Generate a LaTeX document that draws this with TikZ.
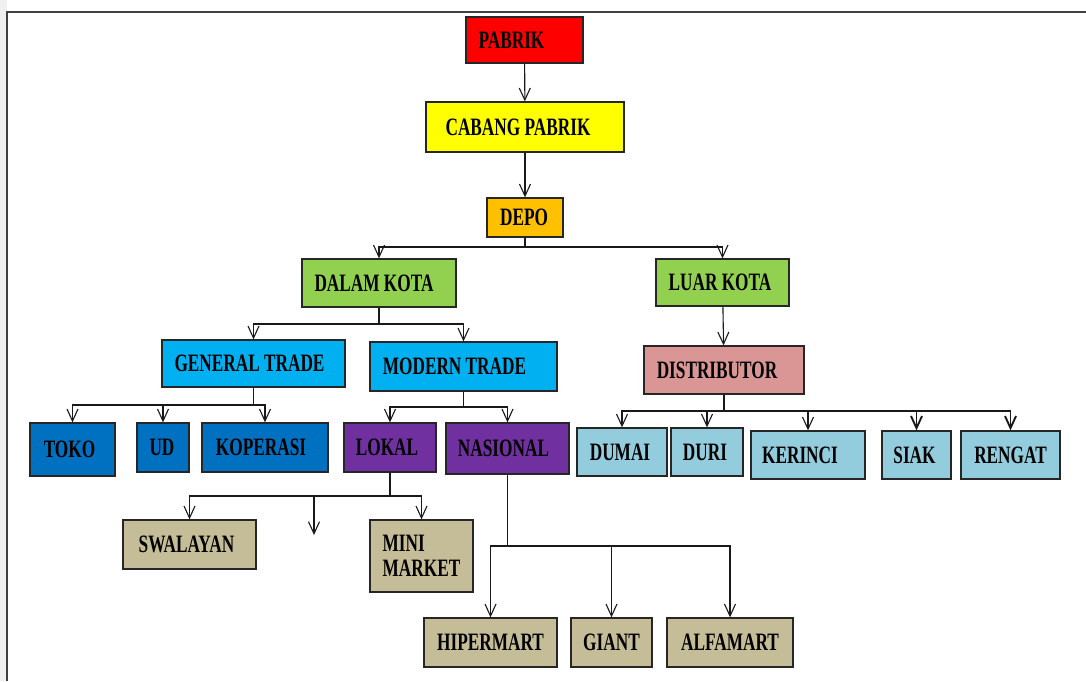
\documentclass[tikz,border=0pt]{standalone}
\usepackage{fontspec}
\newfontfamily\bxfont{Liberation Serif}[FakeStretch=0.69]
\usetikzlibrary{arrows.meta}
\definecolor{cRed}{HTML}{FF0000}
\definecolor{cYellow}{HTML}{FFFF00}
\definecolor{cOrange}{HTML}{FFC000}
\definecolor{cGreen}{HTML}{92D050}
\definecolor{cCyan}{HTML}{00B0F0}
\definecolor{cBlue}{HTML}{0070C0}
\definecolor{cPurple}{HTML}{7030A0}
\definecolor{cPink}{HTML}{D99694}
\definecolor{cLight}{HTML}{93CDDD}
\definecolor{cTan}{HTML}{C4BD97}
\tikzset{
  box/.style={draw=black!85, line width=1.3pt, inner sep=0pt, text=black, align=center,
    font=\bxfont\bfseries\fontsize{25}{25}\selectfont},
  conn/.style={line width=1.1pt, draw=black!90},
  arr/.style={conn, -{Straight Barb[length=12pt,width=11pt]}},
  arrthick/.style={line width=1.9pt, draw=black!90, -{Straight Barb[length=12pt,width=11pt]}},
}
% name, x1, y1, x2, y2, fill, text shift, text
\newcommand\bx[8]{%
  \node[box, fill=#6, minimum width={(#4-#2)*1pt}, minimum height={(#5-#3)*1pt}]
    (#1) at ({(#2+#4)/2},{(#3+#5)/2}) {\hspace*{-#7pt}#8};}
\begin{document}
\begin{tikzpicture}[x=1pt,y=-1pt]
\useasboundingbox (0,0) rectangle (1086,681);
\fill[white] (0,0) rectangle (1086,681);
\fill[black!6] (0,0) rectangle (7,681);
\draw[line width=2pt, black!75] (7,681) -- (7,12) -- (1086,12);

\bx{pabrik}{466}{17}{583}{63}{cRed}{26}{PABRIK}
\bx{cabang}{426}{102}{624}{152}{cYellow}{14}{CABANG PABRIK}
\bx{depo}{487}{198}{563}{237}{cOrange}{2}{DEPO}
\bx{dalam}{302}{259}{456}{307}{cGreen}{10}{DALAM KOTA}
\bx{luar}{656}{259}{789}{306}{cGreen}{5}{LUAR KOTA}
\bx{gt}{162}{340}{345}{387}{cCyan}{8}{GENERAL TRADE}
\bx{mt}{370}{342}{557}{391}{cCyan}{18}{MODERN TRADE}
\bx{dist}{644}{346}{804}{394}{cPink}{14}{DISTRIBUTOR}
\bx{toko}{30}{423}{115}{476}{cBlue}{6}{TOKO}
\bx{ud}{137}{423}{189}{472}{cBlue}{2}{UD}
\bx{kop}{202}{423}{328}{472}{cBlue}{8}{KOPERASI}
\bx{lokal}{344}{423}{436}{472}{cPurple}{6}{LOKAL}
\bx{nas}{446}{423}{569}{474}{cPurple}{8}{NASIONAL}
\bx{dumai}{577}{428}{667}{476}{cLight}{4}{DUMAI}
\bx{duri}{671}{428}{743}{476}{cLight}{4}{DURI}
\bx{kerinci}{751}{431}{865}{479}{cLight}{16}{KERINCI}
\bx{siak}{882}{431}{951}{479}{cLight}{4}{SIAK}
\bx{rengat}{961}{431}{1060}{479}{cLight}{0}{RENGAT}
\bx{swal}{123}{520}{256}{569}{cTan}{6}{SWALAYAN}
\node[box, fill=cTan, minimum width=103pt, minimum height=72pt, align=left] (mini) at (421.5,556) {MINI\\MARKET};
\bx{hiper}{424}{618}{557}{667}{cTan}{0}{HIPERMART}
\bx{giant}{571}{618}{652}{667}{cTan}{0}{GIANT}
\bx{alfa}{667}{618}{793}{667}{cTan}{0}{ALFAMART}

\coordinate (j1) at (525,247);
\coordinate (j2) at (379,324);
\coordinate (j3) at (gt.south |- 0,405);
\coordinate (j4) at (mt.south |- 0,407);
\coordinate (j5) at (dist.south |- 0,411);
\coordinate (j6) at (lokal.south |- 0,496);
\coordinate (j7) at (nas.south |- 0,546);
\coordinate (blank) at (314,535);

\draw[arr] (pabrik) -- (cabang);
\draw[arr] (cabang) -- (depo);
\draw[conn] (depo) -- (j1);
\draw[arr] (j1) -| (dalam);
\draw[arr] (j1) -| (luar);
\draw[conn] (dalam) -- (j2);
\draw[arr] (j2) -| (gt);
\draw[arr] (j2) -| (mt);
\draw[arr] (luar) -- (dist);
\draw[conn] (gt.south) -- (j3);
\draw[arr] (j3) -| (toko);
\draw[arr] (j3) -| (ud);
\draw[arr] (j3) -| (kop);
\draw[conn] (mt.south) -- (j4);
\draw[arr] (j4) -| (lokal);
\draw[arr] (j4) -| (nas);
\draw[conn] (dist.south) -- (j5);
\draw[arr] (j5) -| (dumai);
\draw[arr] (j5) -| (duri);
\draw[arr] (j5) -| (kerinci);
\draw[arrthick] (j5) -| (siak);
\draw[arrthick] (j5) -| (rengat);
\draw[conn] (lokal.south) -- (j6);
\draw[arr] (j6) -| (swal);
\draw[arr] (j6) -| (blank);
\draw[arr] (j6) -| (mini);
\draw[conn] (nas.south) -- (j7);
\draw[arr] (j7) -| (hiper);
\draw[arr] (j7) -| (giant);
\draw[arr] (j7) -| (alfa);
\end{tikzpicture}
\end{document}
